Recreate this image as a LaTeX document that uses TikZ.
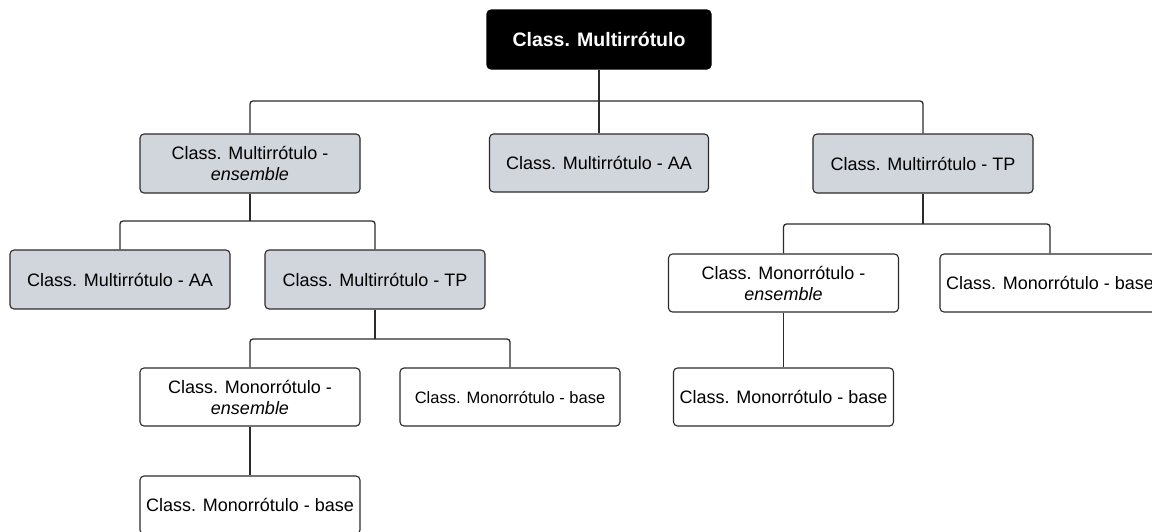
\documentclass[tikz,border=0pt]{standalone}
\usepackage{fontspec}
\setmainfont{Liberation Sans}
\definecolor{linecol}{HTML}{2B2B2B}
\definecolor{greyfill}{HTML}{D1D5DC}
\begin{document}
\begin{tikzpicture}[x=1pt,y=-1pt,
  box/.style={rectangle, rounded corners=4pt, draw=linecol, line width=1.1pt,
    inner sep=0pt, align=center, minimum height=58pt, minimum width=220pt,
    font=\fontsize{18}{21}\selectfont},
  greybox/.style={box, fill=greyfill},
  whitebox/.style={box, fill=white},
  rootbox/.style={box, fill=black, draw=black, text=white, minimum width=224pt,
    minimum height=59pt, font=\fontsize{19.5}{22}\selectfont\bfseries},
  conn/.style={draw=linecol, line width=1.3pt, rounded corners=3pt}]
\useasboundingbox (0,0) rectangle (1152,531);
\clip (0,0) rectangle (1152,531);

% bus levels
\coordinate (b1) at (0,101);
\coordinate (b2) at (0,221);
\coordinate (b3) at (0,224);
\coordinate (b4) at (0,339);

% nodes
\node[rootbox] (root) at (599,39.5) {Class. Multirrótulo};

\node[greybox, minimum height=59pt] (me) at (250,163.5) {Class. Multirrótulo -\\\textit{ensemble}};
\node[greybox, minimum width=219pt] (aa1) at (599,163) {Class. Multirrótulo - AA};
\node[greybox, minimum height=59pt] (tp1) at (923,163.5) {Class. Multirrótulo - TP};

\node[greybox, minimum height=59pt] (aa2) at (120,279.5) {Class. Multirrótulo - AA};
\node[greybox, minimum height=59pt] (tp2) at (375,279.5) {Class. Multirrótulo - TP};

\node[whitebox, minimum width=230pt] (moeR) at (783.5,283) {Class. Monorrótulo -\\\textit{ensemble}};
\node[whitebox] (baseR) at (1050,283) {Class. Monorrótulo - base};
\node[whitebox] (baseR2) at (783.5,397) {Class. Monorrótulo - base};

\node[whitebox] (moeL) at (250,397) {Class. Monorrótulo -\\\textit{ensemble}};
\node[whitebox, font=\fontsize{16.5}{20}\selectfont] (baseM) at (510,397) {Class. Monorrótulo - base};
\node[whitebox] (baseL) at (250,505) {Class. Monorrótulo - base};

% connectors
\draw[conn] (root.south) -- (aa1.north);
\draw[conn] (me.north) -- (me.north |- b1) -- (tp1.north |- b1) -- (tp1.north);

\draw[conn] (me.south) -- (me.south |- b2);
\draw[conn] (aa2.north) -- (aa2.north |- b2) -- (tp2.north |- b2) -- (tp2.north);

\draw[conn] (tp1.south) -- (tp1.south |- b3);
\draw[conn] (moeR.north) -- (moeR.north |- b3) -- (baseR.north |- b3) -- (baseR.north);
\draw[conn] (moeR.south) -- (baseR2.north);

\draw[conn] (tp2.south) -- (tp2.south |- b4);
\draw[conn] (moeL.north) -- (moeL.north |- b4) -- (baseM.north |- b4) -- (baseM.north);
\draw[conn] (moeL.south) -- (baseL.north);
\end{tikzpicture}
\end{document}
